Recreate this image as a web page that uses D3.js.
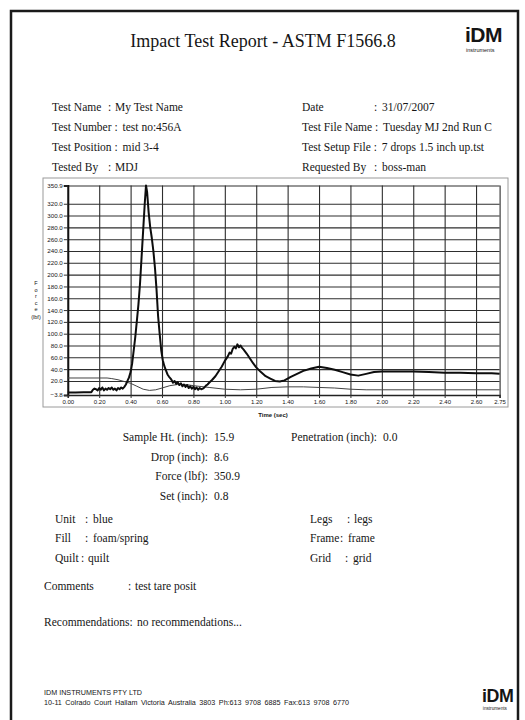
<!DOCTYPE html>
<html><head><meta charset="utf-8">
<script src="https://cdn.jsdelivr.net/npm/d3@7"></script>
<style>
html,body{margin:0;padding:0;background:#fff;}
svg text{font-family:"Liberation Serif","Times New Roman",serif;fill:#151515;}
</style></head>
<body><svg id="c" width="525" height="720"></svg>
<script>
// ---- data ----
const forceTime = [0.00,0.05,0.10,0.15,0.16,0.17,0.18,0.19,0.20,0.21,0.22,0.23,0.24,0.25,0.26,0.27,0.28,0.29,0.30,0.31,0.32,0.33,0.34,0.35,0.36,0.37,0.38,0.39,0.40,0.41,0.42,0.43,0.44,0.45,0.46,0.47,0.48,0.49,0.498,0.505,0.515,0.525,0.535,0.545,0.555,0.565,0.575,0.585,0.595,0.605,0.615,0.625,0.635,0.645,0.655,0.66,0.67,0.68,0.69,0.70,0.71,0.72,0.73,0.74,0.75,0.76,0.77,0.78,0.79,0.80,0.81,0.82,0.83,0.84,0.85,0.86,0.87,0.88,0.89,0.90,0.92,0.94,0.96,0.98,1.00,1.02,1.03,1.04,1.05,1.06,1.07,1.08,1.09,1.10,1.11,1.12,1.14,1.16,1.18,1.20,1.23,1.26,1.29,1.32,1.35,1.38,1.42,1.46,1.50,1.55,1.60,1.65,1.70,1.75,1.80,1.85,1.90,1.95,2.00,2.10,2.20,2.30,2.40,2.50,2.60,2.70,2.75];
const forceValues = [0.5,0.6,0.8,1.0,5,7,6,4,8,5,9,4,7,5,8,6,9,5,7,4,8,6,9,7,10,14,20,26,35,50,72,95,122,150,185,230,275,320,350.9,340,305,280,262,240,212,175,130,100,72,55,45,38,31,27,24,22,17,20,15,18,13,16,11,14,10,13,8,11,7,10,6,9,5,8,6,7,9,12,14,17,22,28,36,44,54,62,68,66,74,78,75,82,77,80,76,73,66,58,50,43,35,28,24,20,19,21,27,32,37,41,44,42,39,35,31,29,32,35,36,36,36,35,34,34,33,33,32];
const refTime = [0.00,0.25,0.28,0.32,0.36,0.40,0.44,0.48,0.52,0.56,0.60,0.65,0.70,0.75,0.80,0.90,1.00,1.10,1.20,1.30,1.40,1.50,1.60,1.70,1.80,1.90,2.00,2.20,2.40,2.60,2.75];
const refValues = [25,25,24,22,19,16,11,6,4,5,8,12,14,14,12,9,6,5,6,9,10,10,9,8,6,5,5,5,5,5,5];
const xTicks = [0,0.2,0.4,0.6,0.8,1.0,1.2,1.4,1.6,1.8,2.0,2.2,2.4,2.6,2.75];
const yTicks = [-3.8,20,40,60,80,100,120,140,160,180,200,220,240,260,280,300,320,350.9];
const leftLabels = ["Test Name","Test Number","Test Position","Tested By"];
const leftValues = ["My Test Name","test no:456A","mid 3-4","MDJ"];
const rightLabels = ["Date","Test File Name","Test Setup File","Requested By"];
const rightValues = ["31/07/2007","Tuesday MJ 2nd Run C","7 drops 1.5 inch up.tst","boss-man"];
const resultLabels = ["Sample Ht. (inch):","Drop (inch):","Force (lbf):","Set (inch):"];
const resultValues = ["15.9","8.6","350.9","0.8"];
const compLeft = [["Unit","blue"],["Fill","foam/spring"],["Quilt","quilt"]];
const compRight = [["Legs","legs"],["Frame","frame"],["Grid","grid"]];

// ---- drawing ----
const svg = d3.select("#c");
const sans = "'Liberation Sans',Arial,sans-serif";
svg.append("rect").attr("x",11).attr("y",11).attr("width",507).attr("height",730)
  .attr("fill","#fff").attr("stroke","#1a1a1a").attr("stroke-width",2.5);

// title & logos
svg.append("text").attr("x",263).attr("y",47).attr("text-anchor","middle")
  .style("font-size","18px").text("Impact Test Report - ASTM F1566.8");
function logo(x,y,s){
  const g = svg.append("g").attr("transform",`translate(${x},${y}) scale(${s})`);
  g.append("text").attr("x",0).attr("y",0).style("font-family",sans)
   .style("font-weight","900").style("font-size","21px").style("letter-spacing","-0.5px").text("iDM");
  g.append("text").attr("x",1).attr("y",9.5).style("font-family",sans)
   .style("font-size","5.5px").text("instruments");
}
logo(465,42,1);
logo(482,702,0.85);

// header rows
const rowY = [111,131,151,171];
const fs = "11.5px";
leftLabels.forEach((l,i)=>{
  const t = svg.append("text").attr("x",52).attr("y",rowY[i]).style("font-size",fs);
  const tight = (i===1||i===2);
  t.text(l);
  if(tight){
    const w = t.node().getComputedTextLength();
    svg.append("text").attr("x",52+w+3).attr("y",rowY[i]).style("font-size",fs).text(":");
    svg.append("text").attr("x",52+w+11).attr("y",rowY[i]).style("font-size",fs).text(leftValues[i]);
  } else {
    svg.append("text").attr("x",108).attr("y",rowY[i]).style("font-size",fs).text(":");
    svg.append("text").attr("x",115).attr("y",rowY[i]).style("font-size",fs).text(leftValues[i]);
  }
});
rightLabels.forEach((l,i)=>{
  const t = svg.append("text").attr("x",302).attr("y",rowY[i]).style("font-size",fs).text(l);
  const tight = (i===1||i===2);
  if(tight){
    const w = t.node().getComputedTextLength();
    svg.append("text").attr("x",302+w+3).attr("y",rowY[i]).style("font-size",fs).text(":");
    svg.append("text").attr("x",302+w+11).attr("y",rowY[i]).style("font-size",fs).text(rightValues[i]);
  } else {
    svg.append("text").attr("x",374).attr("y",rowY[i]).style("font-size",fs).text(":");
    svg.append("text").attr("x",382).attr("y",rowY[i]).style("font-size",fs).text(rightValues[i]);
  }
});

// chart
const x = d3.scaleLinear().domain([0,2.75]).range([67.8,499.6]);
const y = d3.scaleLinear().domain([-3.8,350.9]).range([395,185.5]);
svg.append("rect").attr("x",43).attr("y",178).attr("width",465).attr("height",229)
  .attr("fill","none").attr("stroke","#9a9a9a").attr("stroke-width",1);

const grid = svg.append("g").attr("class","grid");
grid.append("g").attr("transform","translate(0,395)")
  .call(d3.axisBottom(x).tickValues(xTicks).tickSize(-(395-185.5)).tickFormat(""))
  .call(g=>{g.select(".domain").remove(); g.selectAll("line").attr("stroke","#2e2e2e").attr("stroke-width",1.1);});
grid.append("g").attr("transform","translate(67.8,0)")
  .call(d3.axisLeft(y).tickValues(yTicks).tickSize(-(499.6-67.8)).tickFormat(""))
  .call(g=>{g.select(".domain").remove(); g.selectAll("line").attr("stroke","#2e2e2e").attr("stroke-width",1.1);});

const ax = svg.append("g").attr("transform","translate(67.8,0)")
  .call(d3.axisLeft(y).tickValues(yTicks).tickSize(4).tickPadding(1).tickFormat(d3.format(".1f")));
ax.select(".domain").attr("stroke","#111").attr("stroke-width",2);
ax.selectAll("text").style("font-family",sans).style("font-size","6.2px").attr("fill","#333");
ax.selectAll("line").attr("stroke","#333");
const bx = svg.append("g").attr("transform","translate(0,395)")
  .call(d3.axisBottom(x).tickValues(xTicks).tickSize(3).tickPadding(2).tickFormat(d3.format(".2f")));
bx.select(".domain").attr("stroke","#222").attr("stroke-width",1.5);
bx.selectAll("text").style("font-family",sans).style("font-size","6px").attr("fill","#333");
bx.selectAll("line").attr("stroke","#333");

svg.append("text").attr("x",273).attr("y",417).attr("text-anchor","middle")
  .style("font-family",sans).style("font-size","6px").style("font-weight","bold").text("Time (sec)");
["F","o","r","c","e"].forEach((c,i)=>{
  svg.append("text").attr("x",36).attr("y",285+i*6.5).attr("text-anchor","middle")
   .style("font-family",sans).style("font-size","5.5px").text(c);
});
svg.append("text").attr("x",36).attr("y",319).attr("text-anchor","middle")
  .style("font-family",sans).style("font-size","5.5px").text("(lbf)");

const line = d3.line().x(d=>x(d[0])).y(d=>y(d[1]));
svg.append("path").datum(refTime.map((t,i)=>[t,refValues[i]]))
  .attr("d",line).attr("fill","none").attr("stroke","#444").attr("stroke-width",1);
svg.append("path").datum(forceTime.map((t,i)=>[t,forceValues[i]]))
  .attr("d",line).attr("fill","none").attr("stroke","#0d0d0d").attr("stroke-width",2).attr("stroke-linejoin","round");

// results
const resY = [441,461,480,500];
resultLabels.forEach((l,i)=>{
  svg.append("text").attr("x",208).attr("y",resY[i]).attr("text-anchor","end").style("font-size",fs).text(l);
  svg.append("text").attr("x",214).attr("y",resY[i]).style("font-size",fs).text(resultValues[i]);
});
svg.append("text").attr("x",377).attr("y",441).attr("text-anchor","end").style("font-size",fs).text("Penetration (inch):");
svg.append("text").attr("x",383).attr("y",441).style("font-size",fs).text("0.0");

const compY = [523,542,562];
compLeft.forEach((d,i)=>{
  svg.append("text").attr("x",55).attr("y",compY[i]).style("font-size",fs).text(d[0]);
  svg.append("text").attr("x",i===2?81:85).attr("y",compY[i]).style("font-size",fs).text(":");
  svg.append("text").attr("x",i===2?88:93).attr("y",compY[i]).style("font-size",fs).text(d[1]);
});
compRight.forEach((d,i)=>{
  svg.append("text").attr("x",310).attr("y",compY[i]).style("font-size",fs).text(d[0]);
  svg.append("text").attr("x",[347,340,345][i]).attr("y",compY[i]).style("font-size",fs).text(":");
  svg.append("text").attr("x",[354,348,353][i]).attr("y",compY[i]).style("font-size",fs).text(d[1]);
});
svg.append("text").attr("x",44).attr("y",590).style("font-size",fs).text("Comments");
svg.append("text").attr("x",128).attr("y",590).style("font-size",fs).text(":");
svg.append("text").attr("x",135).attr("y",590).style("font-size",fs).text("test tare posit");
svg.append("text").attr("x",44).attr("y",626).style("font-size",fs).text("Recommendations:");
svg.append("text").attr("x",137).attr("y",626).style("font-size",fs).text("no recommendations...");

// footer
svg.append("text").attr("x",44).attr("y",695).style("font-family",sans).style("font-size","7.2px").text("IDM INSTRUMENTS PTY LTD");
svg.append("text").attr("x",44).attr("y",705).style("font-family",sans).style("font-size","7.2px").style("word-spacing","1.5px")
  .text("10-11 Colrado Court  Hallam  Victoria  Australia 3803  Ph:613 9708 6885  Fax:613 9708 6770");
</script></body></html>
